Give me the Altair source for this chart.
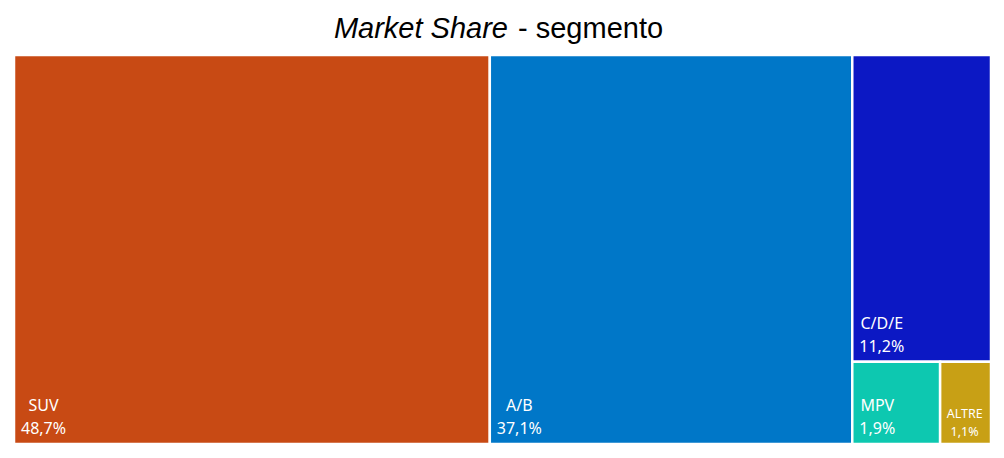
import altair as alt
import pandas as pd

# ---- data ----
names = ["SUV", "A/B", "C/D/E", "MPV", "ALTRE"]
shares = [48.7, 37.1, 11.2, 1.9, 1.1]
colors = ["#C84A14", "#0077C8", "#0C18C4", "#0DC8B0", "#C8A015"]

W, H = 977, 389  # plot area in px

# ---- treemap layout (slice into columns, last column split) ----
total = sum(shares)
rows = []
x = 0.0
for i in range(2):
    rows.append(dict(x0=x, x1=x + shares[i], y0=0.0, y1=1.0, i=i))
    x += shares[i]
rest = sum(shares[2:])
small_sum = sum(shares[3:])
ysplit = small_sum / rest
rows.append(dict(x0=x, x1=total, y0=ysplit, y1=1.0, i=2))
xx = x
for i in range(3, len(shares)):
    w = (total - x) * shares[i] / small_sum
    rows.append(dict(x0=xx, x1=xx + w, y0=0.0, y1=ysplit, i=i))
    xx += w

px_x = total / W
px_y = 1.0 / H
for r in rows:
    i = r["i"]
    r["name"] = names[i]
    r["value"] = f"{shares[i]:.1f}".replace(".", ",") + "%"
    r["lbl"] = r["name"] + "\n" + r["value"]
    wpx = (r["x1"] - r["x0"]) / px_x
    r["small"] = wpx < 60
    cw = 7.0 if r["small"] else 9.0
    est = max(len(r["name"]), len(r["value"])) * cw
    r["lx"] = r["x0"] + (7 + est / 2) * px_x
    # baseline of the first (name) line above the rect bottom
    r["ly"] = r["y0"] + (26 if r["small"] else 33) * px_y
df = pd.DataFrame(rows)

xs = alt.Scale(domain=[0, total], nice=False, zero=False)
ys = alt.Scale(domain=[0, 1], nice=False, zero=False)

rects = alt.Chart(df).mark_rect(stroke="white", strokeWidth=2.5).encode(
    x=alt.X("x0:Q", scale=xs, axis=None),
    x2="x1:Q",
    y=alt.Y("y0:Q", scale=ys, axis=None),
    y2="y1:Q",
    color=alt.Color("name:N", scale=alt.Scale(domain=names, range=colors), legend=None),
)

big = alt.Chart(df).transform_filter("!datum.small").mark_text(
    align="center", baseline="alphabetic", color="white", font="Noto Sans",
    fontSize=16, lineBreak="\n", lineHeight=23,
).encode(
    x=alt.X("lx:Q", scale=xs, axis=None),
    y=alt.Y("ly:Q", scale=ys, axis=None),
    text="lbl:N",
)

small = alt.Chart(df).transform_filter("datum.small").mark_text(
    align="center", baseline="alphabetic", color="white", font="Noto Sans",
    fontSize=12.5, lineBreak="\n", lineHeight=18,
).encode(
    x=alt.X("lx:Q", scale=xs, axis=None),
    y=alt.Y("ly:Q", scale=ys, axis=None),
    text="lbl:N",
)

t1 = alt.Chart(pd.DataFrame({"t": ["Market Share"]})).mark_text(
    align="right", baseline="alphabetic", font="Liberation Sans",
    fontSize=29, fontStyle="italic", color="black",
).encode(x=alt.value(494), y=alt.value(-17), text="t:N")

t2 = alt.Chart(pd.DataFrame({"t": ["- segmento"]})).mark_text(
    align="left", baseline="alphabetic", font="Liberation Sans",
    fontSize=29, color="black",
).encode(x=alt.value(504), y=alt.value(-17), text="t:N")

chart = alt.layer(rects, big, small, t1, t2).properties(
    width=W, height=H,
    padding={"left": 6, "top": 47, "right": 4, "bottom": 6},
    autosize=alt.AutoSizeParams(type="none"),
    background="white",
).configure_view(stroke=None)

chart.save("out.html", embed_options={"renderer": "svg", "actions": False})
